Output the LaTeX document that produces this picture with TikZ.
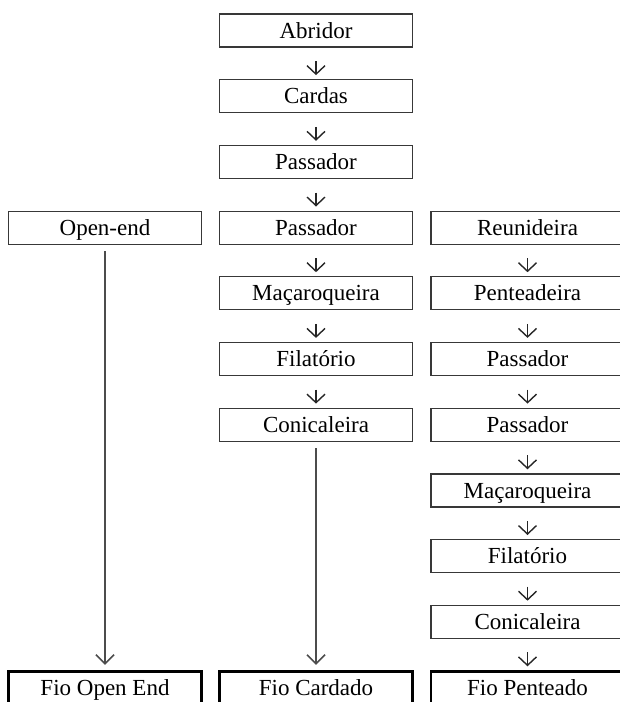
\documentclass[tikz,border=0pt]{standalone}
\usepackage{fontspec}
\setmainfont{Liberation Serif}
\usetikzlibrary{arrows.meta}
\begin{document}
\begin{tikzpicture}[x=1pt,y=-1pt,
  stage/.style={draw=black!78, line width=1.2pt, minimum width=193pt, minimum height=33pt,
    inner sep=0pt, text height=15.2pt, text depth=0pt,
    font=\fontsize{23}{27}\selectfont},
  yarn/.style={stage, draw=black, line width=2.4pt},
  shortarr/.style={draw=black!85, line width=1.4pt, shorten <=13.5pt, shorten >=4pt,
    -{Straight Barb[length=8.5pt,width=18pt,line width=1.4pt]}},
  longarr/.style={draw=black!70, line width=1.8pt, shorten <=6.5pt, shorten >=5.5pt,
    -{Straight Barb[length=9pt,width=18pt,line width=1.5pt]}}]
  \useasboundingbox (0,0) rectangle (620,702);
  \begin{scope}
  \clip (0,0) rectangle (620,702);
  % middle column: carded route
  \node[stage] (abr)  at (316,30.5)  {Abridor};
  \node[stage] (car)  at (316,96.2)  {Cardas};
  \node[stage] (pas1) at (316,161.9) {Passador};
  \node[stage] (pas2) at (316,227.6) {Passador};
  \node[stage] (mac)  at (316,293.3) {Maçaroqueira};
  \node[stage] (fil)  at (316,359.0) {Filatório};
  \node[stage] (con)  at (316,424.7) {Conicaleira};
  % left column: open-end route
  \node[stage] (oe)   at (105,227.6) {Open-end};
  % right column: combed route
  \node[stage] (reu)  at (527.5,227.6) {Reunideira};
  \node[stage] (pen)  at (527.5,293.3) {Penteadeira};
  \node[stage] (rpa1) at (527.5,359.0) {Passador};
  \node[stage] (rpa2) at (527.5,424.7) {Passador};
  \node[stage] (rmac) at (527.5,490.4) {Maçaroqueira};
  \node[stage] (rfil) at (527.5,556.1) {Filatório};
  \node[stage] (rcon) at (527.5,621.8) {Conicaleira};
  % final yarns
  \node[yarn] (foe) at (105,688)   {Fio Open End};
  \node[yarn] (fca) at (316,688)   {Fio Cardado};
  \node[yarn] (fpe) at (527.5,688) {Fio Penteado};
  \end{scope}
  % connectors
  \draw[shortarr] (abr) -- (car);
  \draw[shortarr] (car) -- (pas1);
  \draw[shortarr] (pas1) -- (pas2);
  \draw[shortarr] (pas2) -- (mac);
  \draw[shortarr] (mac) -- (fil);
  \draw[shortarr] (fil) -- (con);
  \draw[shortarr] (reu) -- (pen);
  \draw[shortarr] (pen) -- (rpa1);
  \draw[shortarr] (rpa1) -- (rpa2);
  \draw[shortarr] (rpa2) -- (rmac);
  \draw[shortarr] (rmac) -- (rfil);
  \draw[shortarr] (rfil) -- (rcon);
  \draw[shortarr] (rcon) -- (fpe);
  \draw[longarr] (oe) -- (foe);
  \draw[longarr] (con) -- (fca);
\end{tikzpicture}
\end{document}
